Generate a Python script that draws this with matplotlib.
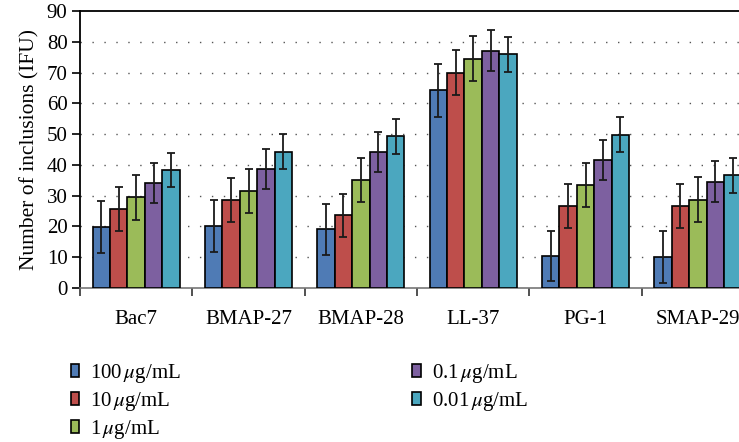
import matplotlib.pyplot as plt
import numpy as np

plt.rcParams['font.family'] = ['Liberation Serif', 'DejaVu Serif']
plt.rcParams['mathtext.fontset'] = 'stix'

peptides = ['Bac7', 'BMAP-27', 'BMAP-28', 'LL-37', 'PG-1', 'SMAP-29']
doses = ['100$\\,\\mu$g/mL', '10$\\,\\mu$g/mL', '1$\\,\\mu$g/mL', '0.1$\\,\\mu$g/mL', '0.01$\\,\\mu$g/mL']
colors = ['#4F7BB5', '#BE4E4B', '#9BBB59', '#7D60A0', '#4BA7BF']

# inclusions per dose, one list per dose (order follows peptides)
d100 = [19.8, 20.0, 19.0, 64.2, 10.4, 10.0]
d10 = [25.6, 28.5, 23.5, 70.0, 26.6, 26.6]
d1 = [29.4, 31.5, 35.0, 74.5, 33.5, 28.7]
d01 = [34.2, 38.5, 44.2, 77.1, 41.4, 34.5]
d001 = [38.3, 44.3, 49.3, 76.0, 49.8, 36.6]

e100 = [8.4, 8.4, 8.4, 8.5, 8.2, 8.3]
e10 = [7.2, 7.2, 7.1, 7.2, 7.2, 7.2]
e1 = [7.3, 7.2, 7.2, 7.3, 7.2, 7.2]
e01 = [6.5, 6.5, 6.6, 6.6, 6.5, 6.6]
e001 = [5.6, 5.7, 5.7, 5.7, 5.7, 5.7]

values = [d100, d10, d1, d01, d001]
errors = [e100, e10, e1, e01, e001]

fig = plt.figure(figsize=(7.39, 4.42), dpi=100)
ax = fig.add_axes([0.1083, 0.349, 0.912, 0.626])

x = np.arange(len(peptides)) + 0.5
w = 0.155
for j in range(5):
    ax.bar(x + (j - 2) * w, values[j], w, color=colors[j], edgecolor='black',
           linewidth=1.2, label=doses[j], zorder=3)
    ax.errorbar(x + (j - 2) * w, values[j], yerr=errors[j], fmt='none',
                ecolor='#1a1a1a', elinewidth=1.3, capsize=3.2, capthick=1.3, zorder=4)

ax.set_xlim(0, 6)
ax.set_ylim(0, 90)
ax.set_yticks(range(0, 91, 10))
for yv in range(10, 81, 10):
    ax.axhline(yv, color='#555555', lw=1, linestyle=(0, (1, 7.6)), zorder=1)

ax.set_xticks(x)
ax.set_xticklabels(peptides, fontsize=15)
ax.set_xticks(np.arange(0, 7), minor=True)
ax.tick_params(axis='x', which='major', length=0, pad=16)
ax.tick_params(axis='x', which='minor', length=6, width=1.2, direction='out', color='#333333')
ax.tick_params(axis='y', length=6, width=1.2, labelsize=15, pad=3)
ax.set_ylabel('Number of inclusions (IFU)', fontsize=15.5, labelpad=5)

ax.spines['right'].set_visible(False)
ax.spines['top'].set_linewidth(1.3)
ax.spines['left'].set_linewidth(1.3)
ax.spines['bottom'].set_color('#777777')
ax.spines['bottom'].set_linewidth(1.2)

fig.legend(loc='upper left', bbox_to_anchor=(0.079, 0.209), ncol=2, frameon=False,
           fontsize=15, handlelength=0.41, handleheight=0.58, handletextpad=0.53,
           columnspacing=11.1, labelspacing=0.23, borderaxespad=0.2)

fig.savefig('out.png', dpi=100)
